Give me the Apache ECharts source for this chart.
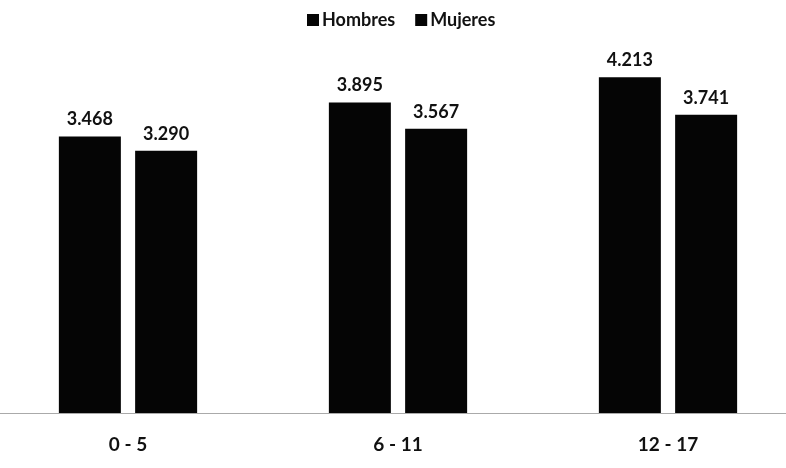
<!DOCTYPE html>
<html>
<head>
<meta charset="utf-8">
<script src="https://cdn.jsdelivr.net/npm/echarts@6/dist/echarts.min.js"></script>
<style>
  html, body { margin: 0; padding: 0; background: #fff; }
  #chart { width: 786px; height: 468px; }
</style>
</head>
<body>
<div id="chart"></div>
<script>
const categories = ["0 - 5", "6 - 11", "12 - 17"];
const hombres = [3468, 3895, 4213];
const mujeres = [3290, 3567, 3741];

// 3468 -> "3.468"
const fmt = (v) => String(v).replace(/\B(?=(\d{3})+(?!\d))/g, ".");

const chart = echarts.init(document.getElementById("chart"));

const labelStyle = {
  show: true,
  position: "top",
  distance: 8,
  color: "#111",
  fontFamily: "Lato",
  fontWeight: "bold",
  fontSize: 18,
  formatter: (p) => fmt(p.value),
};

chart.setOption({
  backgroundColor: "#fff",
  animation: false,
  legend: {
    top: 6,
    left: 302,
    itemWidth: 12,
    itemHeight: 12,
    itemGap: 20,
    icon: "rect",
    textStyle: {
      color: "#111",
      fontFamily: "Lato",
      fontWeight: "bold",
      fontSize: 18,
      padding: [0, 0, 0, -2],
    },
    data: ["Hombres", "Mujeres"],
  },
  grid: {
    left: -7,
    width: 810,
    top: 14.5,
    bottom: 55,
    outerBoundsMode: "none",
    containLabel: false,
  },
  xAxis: {
    type: "category",
    data: categories,
    axisLine: { lineStyle: { color: "#aaa", width: 1 } },
    axisTick: { show: false },
    axisLabel: {
      color: "#111",
      fontFamily: "Lato",
      fontWeight: "bold",
      fontSize: 19,
      margin: 22,
    },
  },
  yAxis: {
    type: "value",
    min: 0,
    max: 5000,
    show: false,
    splitLine: { show: false },
  },
  series: [
    {
      name: "Hombres",
      type: "bar",
      data: hombres,
      barWidth: 62,
      barGap: "23%",
      itemStyle: { color: "#050505" },
      label: labelStyle,
    },
    {
      name: "Mujeres",
      type: "bar",
      data: mujeres,
      barWidth: 62,
      itemStyle: { color: "#050505" },
      label: labelStyle,
    },
  ],
});
</script>
</body>
</html>
